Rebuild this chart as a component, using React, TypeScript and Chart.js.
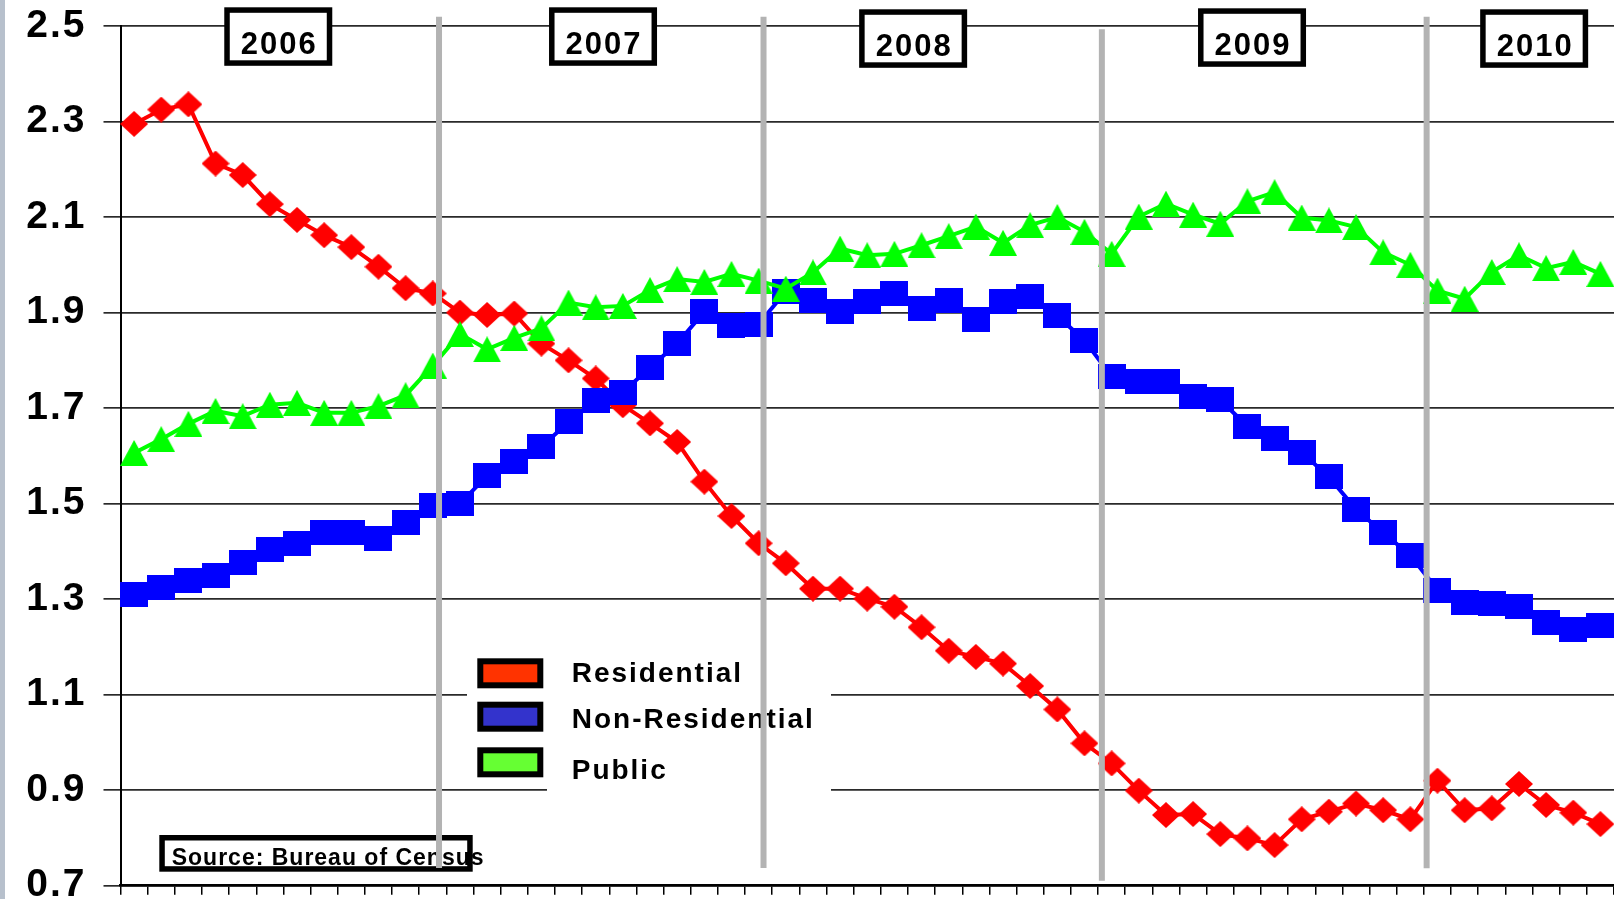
import React, { useEffect, useRef } from 'react';
import { Chart, registerables } from 'chart.js';

Chart.register(...registerables);

// ---------- data ----------
const years = ['2006', '2007', '2008', '2009', '2010'];
const monthNames = ['Jan', 'Feb', 'Mar', 'Apr', 'May', 'Jun', 'Jul', 'Aug', 'Sep', 'Oct', 'Nov', 'Dec'];
const monthsShown = [12, 12, 12, 12, 7];
const categories: string[] = years.flatMap((y, i) =>
  monthNames.slice(0, monthsShown[i]).map((m) => `${m} ${y}`)
);

const residential = [
  2.295, 2.325, 2.336, 2.212, 2.188, 2.127, 2.094, 2.062, 2.037, 1.996, 1.951, 1.94,
  1.9, 1.895, 1.898, 1.835, 1.8, 1.762, 1.706, 1.668, 1.629, 1.546, 1.474, 1.417,
  1.375, 1.322, 1.322, 1.301, 1.284, 1.241, 1.192, 1.179, 1.165, 1.118, 1.069, 0.998,
  0.956, 0.899, 0.848, 0.85, 0.808, 0.799, 0.785, 0.839, 0.855, 0.872, 0.858, 0.839,
  0.92, 0.858, 0.862, 0.913, 0.869, 0.853, 0.829,
];
const nonResidential = [
  1.31, 1.324, 1.34, 1.35, 1.376, 1.403, 1.417, 1.439, 1.439, 1.426, 1.46, 1.497,
  1.5, 1.558, 1.588, 1.619, 1.671, 1.715, 1.733, 1.785, 1.835, 1.902, 1.872, 1.876,
  1.944, 1.926, 1.902, 1.923, 1.939, 1.909, 1.926, 1.886, 1.923, 1.933, 1.893, 1.842,
  1.766, 1.755, 1.755, 1.725, 1.717, 1.662, 1.637, 1.607, 1.556, 1.488, 1.439, 1.392,
  1.319, 1.292, 1.29, 1.285, 1.252, 1.236, 1.245,
];
const publicSpending = [
  1.606, 1.635, 1.667, 1.694, 1.683, 1.707, 1.711, 1.69, 1.69, 1.704, 1.727, 1.789,
  1.855, 1.823, 1.847, 1.867, 1.921, 1.911, 1.914, 1.947, 1.97, 1.964, 1.981, 1.967,
  1.95, 1.984, 2.034, 2.02, 2.023, 2.041, 2.06, 2.08, 2.046, 2.083, 2.1, 2.069,
  2.023, 2.101, 2.128, 2.105, 2.086, 2.133, 2.152, 2.099, 2.093, 2.079, 2.026, 2.0,
  1.946, 1.929, 1.985, 2.02, 1.993, 2.006, 1.981,
];

const yTickValues = [0.7, 0.9, 1.1, 1.3, 1.5, 1.7, 1.9, 2.1, 2.3, 2.5];
const seriesNames = ['Residential', 'Non-Residential', 'Public'];
const lineColors = ['#FF0000', '#0000FF', '#00FF00'];
const swatchColors = ['#FF3300', '#3333CC', '#66FF33'];
const sourceNote = 'Source: Bureau of Census';

// decoration anchors, in category-index units along the x scale
const yearLabelAt = [5.31, 17.27, 28.69, 41.17, 51.56];
const yearDividerAt = [11.23, 23.18, 35.64, 47.6];

// ---------- helpers ----------
function makeMarker(shape: string, color: string, w: number, h: number) {
  const c = document.createElement('canvas');
  c.width = w;
  c.height = h;
  const g = c.getContext('2d') as CanvasRenderingContext2D;
  g.fillStyle = color;
  g.beginPath();
  if (shape === 'diamond') {
    g.moveTo(w / 2, 0);
    g.lineTo(w, h / 2);
    g.lineTo(w / 2, h);
    g.lineTo(0, h / 2);
  } else if (shape === 'square') {
    g.rect(0, 0, w, h);
  } else {
    g.moveTo(w / 2, 0);
    g.lineTo(w, h);
    g.lineTo(0, h);
  }
  g.closePath();
  g.fill();
  return c;
}

const FONT = '"Liberation Sans", Arial, sans-serif';
const TICK_SPACING = '2px';

const decorPlugin = {
  id: 'decor',
  beforeDraw(chart: any) {
    const { ctx, width, height } = chart;
    ctx.save();
    ctx.fillStyle = '#ffffff';
    ctx.fillRect(0, 0, width, height);
    ctx.fillStyle = '#B7C0CC';
    ctx.fillRect(0, 0, 5, height);
    ctx.restore();
    ctx.letterSpacing = TICK_SPACING;
  },
  afterDatasetsDraw(chart: any) {
    const { ctx } = chart;
    const xs = chart.scales.x;
    ctx.save();

    // year boxes
    const boxTops = [7.3, 7.3, 9.3, 8.3, 9.3];
    yearLabelAt.forEach((v, i) => {
      const cx = xs.getPixelForValue(v);
      const w = 108;
      const h = 58.5;
      const top = boxTops[i];
      ctx.fillStyle = '#000';
      ctx.fillRect(cx - w / 2, top, w, h);
      ctx.fillStyle = '#fff';
      ctx.fillRect(cx - w / 2 + 5.5, top + 5.5, w - 11, h - 11);
      ctx.fillStyle = '#000';
      ctx.font = `bold 31px ${FONT}`;
      ctx.letterSpacing = '2px';
      ctx.textAlign = 'center';
      ctx.textBaseline = 'alphabetic';
      ctx.fillText(years[i], cx + 1, top + 46.7);
    });

    // legend background
    ctx.fillStyle = '#fff';
    ctx.fillRect(467, 645, 364, 144);
    ctx.fillRect(547, 785, 284, 8);
    const swatchTops = [658.3, 701.7, 747.3];
    const textBase = [681.7, 728.3, 779.3];
    seriesNames.forEach((name, i) => {
      ctx.fillStyle = '#000';
      ctx.fillRect(477.3, swatchTops[i], 66, 30);
      ctx.fillStyle = swatchColors[i];
      ctx.fillRect(483.3, swatchTops[i] + 6, 54, 18);
      ctx.fillStyle = '#000';
      ctx.font = `bold 28px ${FONT}`;
      ctx.letterSpacing = '2px';
      ctx.textAlign = 'left';
      ctx.textBaseline = 'alphabetic';
      ctx.fillText(name, 571.7, textBase[i]);
    });

    // source box
    ctx.fillStyle = '#000';
    ctx.fillRect(159.3, 835, 313.4, 36.7);
    ctx.fillStyle = '#fff';
    ctx.fillRect(164.8, 840.5, 302.4, 25.7);
    ctx.fillStyle = '#000';
    ctx.font = `bold 23px ${FONT}`;
    ctx.letterSpacing = '1px';
    ctx.textAlign = 'left';
    ctx.fillText(sourceNote, 171.7, 865);

    // year dividers (drawn over everything)
    const tops = [16.7, 16.7, 29.3, 16.7];
    const bottoms = [868, 868, 880.7, 868.3];
    ctx.strokeStyle = '#B3B3B3';
    ctx.lineWidth = 6;
    yearDividerAt.forEach((v, i) => {
      const x = xs.getPixelForValue(v);
      ctx.beginPath();
      ctx.moveTo(x, tops[i]);
      ctx.lineTo(x, bottoms[i]);
      ctx.stroke();
    });

    ctx.restore();
    ctx.letterSpacing = TICK_SPACING;
  },
};

export default function App() {
  const ref = useRef<HTMLCanvasElement>(null);

  useEffect(() => {
    const canvas = ref.current;
    if (!canvas) return;
    const diamond = makeMarker('diamond', lineColors[0], 28, 26);
    const square = makeMarker('square', lineColors[1], 28, 25);
    const triangle = makeMarker('triangle', lineColors[2], 28, 26);

    const chart = new Chart(canvas, {
      type: 'line',
      data: {
        labels: categories,
        datasets: [
          {
            label: seriesNames[0],
            data: residential,
            borderColor: lineColors[0],
            backgroundColor: lineColors[0],
            borderWidth: 4,
            pointStyle: diamond as any,
            pointRadius: 13,
            tension: 0,
            order: 3,
          },
          {
            label: seriesNames[1],
            data: nonResidential,
            borderColor: lineColors[1],
            backgroundColor: lineColors[1],
            borderWidth: 4,
            pointStyle: square as any,
            pointRadius: 13,
            tension: 0,
            order: 2,
          },
          {
            label: seriesNames[2],
            data: publicSpending,
            borderColor: lineColors[2],
            backgroundColor: lineColors[2],
            borderWidth: 4,
            pointStyle: triangle as any,
            pointRadius: 13,
            tension: 0,
            order: 1,
          },
        ],
      },
      options: {
        animation: false,
        responsive: false,
        devicePixelRatio: 1,
        layout: { autoPadding: false, padding: { top: 26, left: 0, right: 0, bottom: 0 } },
        plugins: { legend: { display: false }, tooltip: { enabled: false } },
        scales: {
          x: {
            type: 'category',
            offset: true,
            grid: {
              display: true,
              offset: true,
              drawOnChartArea: false,
              drawTicks: true,
              tickLength: 9,
              color: '#000',
              lineWidth: 1.5,
            },
            border: { display: true, color: '#000', width: 2.5 },
            ticks: { display: false, autoSkip: false },
            afterFit: (s: any) => {
              s.height = 13.3;
            },
          },
          y: {
            min: 0.7,
            max: 2.5,
            afterBuildTicks: (s: any) => {
              s.ticks = yTickValues.map((v) => ({ value: v }));
            },
            grid: { color: '#2a2a2a', lineWidth: 1.7, tickLength: 17, drawTicks: true },
            border: { display: true, color: '#000', width: 2 },
            ticks: {
              color: '#000',
              padding: 17,
              font: { family: FONT, size: 39, weight: 'bold' },
              callback: (v: any) => Number(v).toFixed(1),
            },
            afterFit: (s: any) => {
              s.width = 120.5;
              s.paddingTop = 0;
              s.paddingBottom = 0;
            },
          },
        },
      } as any,
      plugins: [decorPlugin],
    });

    return () => chart.destroy();
  }, []);

  return (
    <div
      style={{
        position: 'fixed',
        left: 0,
        top: 0,
        width: 1614,
        height: 899,
        background: '#fff',
        overflow: 'hidden',
      }}
    >
      <canvas ref={ref} width={1614} height={899} style={{ display: 'block', width: 1614, height: 899 }} />
    </div>
  );
}
